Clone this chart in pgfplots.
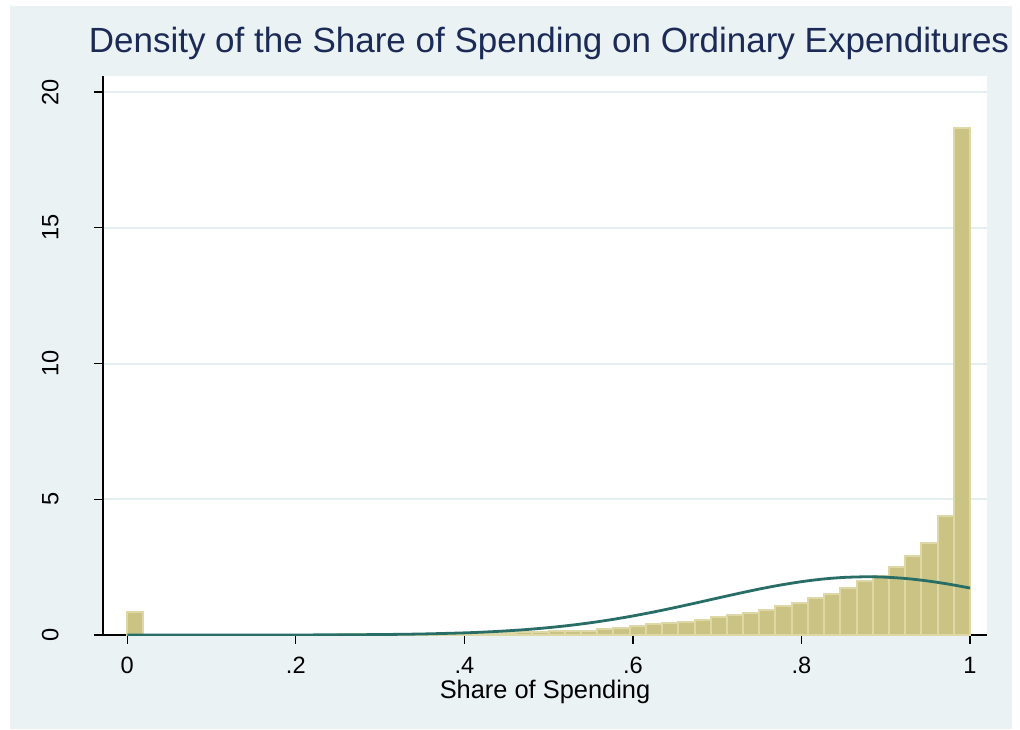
\documentclass[border=0pt]{standalone}
\usepackage{fontspec}
\setmainfont{Liberation Sans}
\usepackage{pgfplots}
\pgfplotsset{compat=1.18}
\definecolor{bgc}{RGB}{234,242,243}
\definecolor{barf}{RGB}{202,195,131}
\definecolor{barl}{RGB}{222,216,166}
\definecolor{curvec}{RGB}{40,110,103}
\definecolor{titlec}{RGB}{28,42,87}
\definecolor{gridc}{RGB}{228,237,239}
\begin{document}
\begin{tikzpicture}
\fill[white] (-51.5pt,-47pt) rectangle (458.5pt,317.5pt);
\fill[bgc] (-46.5pt,-47pt) rectangle (454.5pt,314.5pt);
\begin{axis}[
  at={(0pt,0pt)}, anchor=south west,
  scale only axis, width=442pt, height=279.5pt,
  xmin=-0.0288, xmax=1.0202, ymin=0, ymax=20.59,
  axis x line*=bottom, axis y line*=left,
  axis line style={black, line width=0.6pt},
  tick align=outside, major tick length=4.5pt,
  tick style={black, line width=0.6pt},
  xtick={0,0.2,0.4,0.6,0.8,1}, xticklabels={0,.2,.4,.6,.8,1},
  ytick={0,5,10,15,20},
  ymajorgrids, grid style={gridc, line width=1pt},
  axis background/.style={fill=white},
  /pgf/number format/assume math mode=true,
  tick label style={font=\fontsize{11.8}{13}\selectfont},
  xticklabel style={anchor=north, inner sep=0pt, yshift=-6.5pt},
  yticklabel style={xshift=-17.5pt, rotate=90, anchor=south, inner sep=0pt},
  xlabel={Share of Spending},
  xlabel style={at={(axis description cs:0.5,0)}, anchor=base, yshift=-31.5pt, inner sep=0pt, font=\fontsize{12.7}{14}\selectfont},
  title={Density of the Share of Spending on Ordinary Expenditures},
  title style={at={(axis description cs:0.5,1)}, anchor=base, yshift=5.5pt, xshift=2pt, inner sep=0pt, font=\fontsize{17.5}{20}\selectfont, color=titlec},
]
\addplot[ybar interval, fill=barf, draw=barl, line width=1pt] coordinates {
(0,0.84) (0.01923,0.84)
};
\addplot[ybar interval, fill=barf, draw=barl, line width=1pt] coordinates {
(0.2308,0.01) (0.2500,0.02) (0.2692,0.02) (0.2885,0.03) (0.3077,0.03)
(0.3269,0.04) (0.3462,0.05) (0.3654,0.05) (0.3846,0.06) (0.4038,0.07)
(0.4231,0.08) (0.4423,0.09) (0.4615,0.10) (0.4808,0.11) (0.5000,0.13)
(0.5192,0.14) (0.5385,0.16) (0.5577,0.21) (0.5769,0.26) (0.5962,0.34)
(0.6154,0.39) (0.6346,0.43) (0.6538,0.48) (0.6731,0.56) (0.6923,0.65)
(0.7115,0.74) (0.7308,0.80) (0.7500,0.93) (0.7692,1.07) (0.7885,1.19)
(0.8077,1.35) (0.8269,1.52) (0.8462,1.72) (0.8654,1.98) (0.8846,2.18)
(0.9038,2.49) (0.9231,2.90) (0.9423,3.40) (0.9615,4.38) (0.9808,18.68)
(1.0000,18.68)
};
\addplot[curvec, line width=1.4pt, smooth, no markers] coordinates {
(0,0.00003) (0.1,0.0003) (0.2,0.0028) (0.25,0.0072) (0.3,0.0172) (0.35,0.0382)
(0.4,0.079) (0.425,0.110) (0.45,0.152) (0.475,0.205) (0.5,0.272) (0.525,0.354)
(0.55,0.453) (0.575,0.569) (0.6,0.702) (0.625,0.850) (0.65,1.012) (0.675,1.182)
(0.7,1.357) (0.725,1.529) (0.75,1.693) (0.775,1.840) (0.8,1.964) (0.825,2.060)
(0.85,2.121) (0.878,2.145) (0.9,2.130) (0.925,2.078) (0.95,1.990) (0.975,1.872)
(1.0,1.730)
};
\end{axis}
\pgfresetboundingbox
\path (-51.5pt,-47pt) rectangle (458.5pt,317.5pt);
\end{tikzpicture}
\end{document}
